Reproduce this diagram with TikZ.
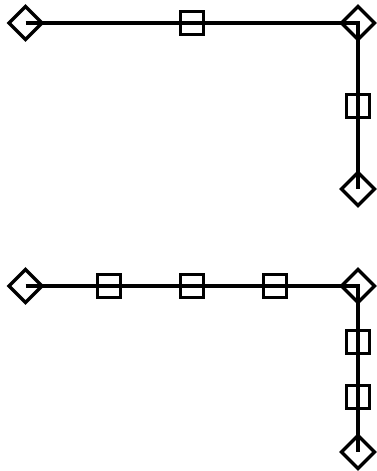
\documentclass[tikz,border=0pt]{standalone}
\usetikzlibrary{shapes.geometric}
\tikzset{
  dia/.style={diamond,draw=black,line width=3.4pt,minimum width=33pt,minimum height=33pt,inner sep=0pt,outer sep=0pt},
  sq/.style={rectangle,draw=black,line width=3.4pt,minimum width=22.5pt,minimum height=22.5pt,inner sep=0pt,outer sep=0pt},
  conn/.style={draw=black,line width=3.1pt,line cap=butt,line join=miter}
}
\begin{document}
\begin{tikzpicture}[x=1pt,y=-1pt]
\useasboundingbox (0,0) rectangle (376,471);
\node[dia] (a1) at (25.5,23) {};
\node[sq] (s1) at (192,23) {};
\node[dia] (a2) at (358,23) {};
\node[sq] (s2) at (358,106) {};
\node[dia] (a3) at (358,189) {};
\draw[conn] (a1.center) -- (s1.center) -- (a2.center) -- (s2.center) -- (a3.center);
\node[dia] (b1) at (25.5,286) {};
\node[sq] (t1) at (109,286) {};
\node[sq] (t2) at (192,286) {};
\node[sq] (t3) at (275,286) {};
\node[dia] (b2) at (358,286) {};
\node[sq] (t4) at (358,342) {};
\node[sq] (t5) at (358,397) {};
\node[dia] (b3) at (358,452) {};
\draw[conn] (b1.center) -- (t1.center) -- (t2.center) -- (t3.center) -- (b2.center) -- (t4.center) -- (t5.center) -- (b3.center);
\end{tikzpicture}
\end{document}
